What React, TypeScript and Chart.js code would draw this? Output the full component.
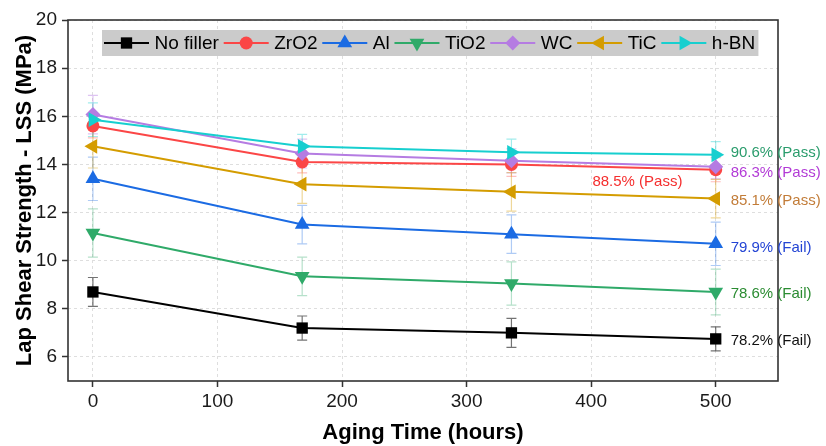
import React, { useEffect, useRef } from "react";
import { Chart, registerables } from "chart.js";

Chart.register(...registerables);

// ---------- data ----------
const hours = [0, 168, 336, 500];
const seriesNames = ["No filler", "ZrO2", "Al", "TiO2", "WC", "TiC", "h-BN"];

const noFiller = [8.7, 7.2, 7.0, 6.75];
const noFillerErr = [0.6, 0.5, 0.6, 0.5];
const zro2 = [15.6, 14.1, 14.0, 13.78];
const zro2Err = [0.5, 0.45, 0.5, 0.5];
const al = [13.4, 11.5, 11.1, 10.7];
const alErr = [0.9, 0.8, 0.8, 0.9];
const tio2 = [11.15, 9.35, 9.05, 8.7];
const tio2Err = [1.0, 0.8, 0.9, 0.95];
const wc = [16.07, 14.45, 14.15, 13.9];
const wcErr = [0.8, 0.6, 0.5, 0.5];
const tic = [14.75, 13.18, 12.86, 12.58];
const ticErr = [0.9, 0.8, 0.8, 0.8];
const hbn = [15.86, 14.75, 14.5, 14.4];
const hbnErr = [0.7, 0.5, 0.55, 0.55];

const xTicks = [0, 100, 200, 300, 400, 500];
const yTicks = [6, 8, 10, 12, 14, 16, 18, 20];

const retentionTexts = ["90.6% (Pass)", "86.3% (Pass)", "88.5% (Pass)", "85.1% (Pass)", "79.9% (Fail)", "78.6% (Fail)", "78.2% (Fail)"];
const retentionHours = [512, 512, 401, 512, 512, 512, 512];
const retentionValues = [14.47, 13.65, 13.29, 12.47, 10.55, 8.64, 6.67];
const retentionColors = ["#2a9c6c", "#b23ad6", "#f52e2e", "#c27c38", "#2344d4", "#2b8c32", "#111111"];

// ---------- styling ----------
const seriesValues = [noFiller, zro2, al, tio2, wc, tic, hbn];
const seriesErrors = [noFillerErr, zro2Err, alErr, tio2Err, wcErr, ticErr, hbnErr];
const seriesColors = ["#000000", "#fb4646", "#1b6be3", "#2faa69", "#b57ce2", "#d49c00", "#17cfcf"];
const errColors = ["rgba(0,0,0,0.55)", "rgba(251,70,70,0.35)", "rgba(27,107,227,0.35)", "rgba(47,170,105,0.35)", "rgba(181,124,226,0.45)", "rgba(212,156,0,0.4)", "rgba(23,207,207,0.4)"];
const markerStyles = ["rect", "circle", "triangle", "triangle", "rectRot", "triangle", "triangle"];
const markerRot = [0, 0, 0, 180, 0, 270, 90];
const markerRadius = [8, 6.5, 8.5, 8.5, 7.5, 8.5, 8.5];

const FONT = "'Liberation Sans', Arial, Helvetica, sans-serif";

function drawMarker(ctx: CanvasRenderingContext2D, style: string, rot: number, x: number, y: number, r: number, color: string) {
  ctx.save();
  ctx.translate(x, y);
  ctx.rotate((rot * Math.PI) / 180);
  ctx.fillStyle = color;
  ctx.beginPath();
  if (style === "rect") {
    const s = r * Math.SQRT1_2;
    ctx.rect(-s, -s, 2 * s, 2 * s);
  } else if (style === "circle") {
    ctx.arc(0, 0, r, 0, Math.PI * 2);
  } else if (style === "rectRot") {
    ctx.moveTo(0, -r);
    ctx.lineTo(r, 0);
    ctx.lineTo(0, r);
    ctx.lineTo(-r, 0);
    ctx.closePath();
  } else {
    const a = (2 * Math.PI) / 3;
    ctx.moveTo(0, -r);
    ctx.lineTo(Math.sin(a) * r, -Math.cos(a) * r);
    ctx.lineTo(Math.sin(2 * a) * r, -Math.cos(2 * a) * r);
    ctx.closePath();
  }
  ctx.fill();
  ctx.restore();
}

const errorBarPlugin = {
  id: "errorBars",
  beforeDatasetsDraw(chart: any) {
    const ctx = chart.ctx as CanvasRenderingContext2D;
    const xs = chart.scales.x;
    const ys = chart.scales.y;
    ctx.save();
    seriesValues.forEach((vals, si) => {
      ctx.strokeStyle = errColors[si];
      ctx.lineWidth = 1.2;
      vals.forEach((v, i) => {
        const e = seriesErrors[si][i];
        const px = xs.getPixelForValue(hours[i]);
        const top = ys.getPixelForValue(v + e);
        const bot = ys.getPixelForValue(v - e);
        ctx.beginPath();
        ctx.moveTo(px, top);
        ctx.lineTo(px, bot);
        ctx.moveTo(px - 5, top);
        ctx.lineTo(px + 5, top);
        ctx.moveTo(px - 5, bot);
        ctx.lineTo(px + 5, bot);
        ctx.stroke();
      });
    });
    ctx.restore();
  },
};

const decorPlugin = {
  id: "decor",
  afterDraw(chart: any) {
    const ctx = chart.ctx as CanvasRenderingContext2D;
    const area = chart.chartArea;
    const xs = chart.scales.x;
    const ys = chart.scales.y;
    ctx.save();
    // frame
    ctx.strokeStyle = "#333333";
    ctx.lineWidth = 1.6;
    ctx.strokeRect(area.left, area.top, area.right - area.left, area.bottom - area.top);

    // retention annotations
    ctx.font = `15px ${FONT}`;
    ctx.textAlign = "left";
    ctx.textBaseline = "middle";
    retentionTexts.forEach((t, i) => {
      ctx.fillStyle = retentionColors[i];
      ctx.fillText(t, xs.getPixelForValue(retentionHours[i]), ys.getPixelForValue(retentionValues[i]));
    });

    // legend
    ctx.font = `19px ${FONT}`;
    const lineLen = 45;
    const startX = 104;
    const cy = 43;
    let x = startX;
    const items: { x: number; tx: number }[] = [];
    seriesNames.forEach((name) => {
      const tx = x + lineLen + 5.5;
      items.push({ x, tx });
      x = tx + ctx.measureText(name).width + 4.8;
    });
    const boxLeft = startX - 2;
    const boxRight = x - 1.5;
    ctx.fillStyle = "#cbcbcb";
    ctx.fillRect(boxLeft, 30, boxRight - boxLeft, 26);
    seriesNames.forEach((name, i) => {
      const it = items[i];
      ctx.strokeStyle = seriesColors[i];
      ctx.lineWidth = 2;
      ctx.beginPath();
      ctx.moveTo(it.x, cy);
      ctx.lineTo(it.x + lineLen, cy);
      ctx.stroke();
      drawMarker(ctx, markerStyles[i], markerRot[i], it.x + lineLen / 2, cy, markerRadius[i], seriesColors[i]);
      ctx.fillStyle = "#000000";
      ctx.textBaseline = "middle";
      ctx.fillText(name, it.tx, cy + 1);
    });
    ctx.restore();
  },
};

export default function App() {
  const canvasRef = useRef<HTMLCanvasElement | null>(null);

  useEffect(() => {
    if (!canvasRef.current) return;
    const datasets = seriesNames.map((name, si) => ({
      label: name,
      data: hours.map((h, i) => ({ x: h, y: seriesValues[si][i] })),
      borderColor: seriesColors[si],
      backgroundColor: seriesColors[si],
      borderWidth: 2,
      pointStyle: markerStyles[si] as any,
      rotation: markerRot[si],
      pointRadius: markerRadius[si],
      pointBorderWidth: 0,
      pointBackgroundColor: seriesColors[si],
      tension: 0,
      order: seriesNames.length - 1 - si,
    }));

    const tickFont = { family: FONT, size: 19 };
    const chart = new Chart(canvasRef.current, {
      type: "line",
      data: { datasets },
      plugins: [errorBarPlugin, decorPlugin],
      options: {
        animation: false,
        responsive: false,
        maintainAspectRatio: false,
        layout: { padding: { top: 20, right: 48, bottom: 0, left: 0 } },
        plugins: { legend: { display: false }, tooltip: { enabled: false } },
        scales: {
          x: {
            type: "linear",
            min: -20,
            max: 550,
            afterBuildTicks: (axis: any) => {
              axis.ticks = xTicks.map((v) => ({ value: v }));
            },
            afterFit: (axis: any) => {
              axis.height = 65;
            },
            ticks: { font: tickFont, color: "#1a1a1a", padding: 3, maxRotation: 0, autoSkip: false },
            grid: { color: "#dedede", lineWidth: 1, tickLength: 6, tickColor: "#333333", tickWidth: 1.5, tickBorderDash: [] },
            border: { display: false, dash: [3, 3] },
            title: {
              display: true,
              text: "Aging Time (hours)",
              font: { family: FONT, size: 22, weight: "bold" },
              color: "#000000",
              padding: { top: 0, bottom: 0 },
            },
          },
          y: {
            type: "linear",
            min: 5,
            max: 20,
            afterBuildTicks: (axis: any) => {
              axis.ticks = yTicks.map((v) => ({ value: v }));
            },
            afterFit: (axis: any) => {
              axis.width = 68;
            },
            ticks: { font: tickFont, color: "#1a1a1a", padding: 5, autoSkip: false },
            grid: { color: "#dedede", lineWidth: 1, tickLength: 6, tickColor: "#333333", tickWidth: 1.5, tickBorderDash: [] },
            border: { display: false, dash: [3, 3] },
            title: {
              display: true,
              text: "Lap Shear Strength - LSS (MPa)",
              font: { family: FONT, size: 22, weight: "bold" },
              color: "#000000",
              padding: { top: 12, bottom: 0 },
            },
          },
        },
      },
    } as any);
    return () => chart.destroy();
  }, []);

  return (
    <div style={{ position: "fixed", left: 0, top: 0, width: 826, height: 446, background: "#ffffff" }}>
      <canvas ref={canvasRef} width={826} height={446} style={{ display: "block" }} />
    </div>
  );
}
